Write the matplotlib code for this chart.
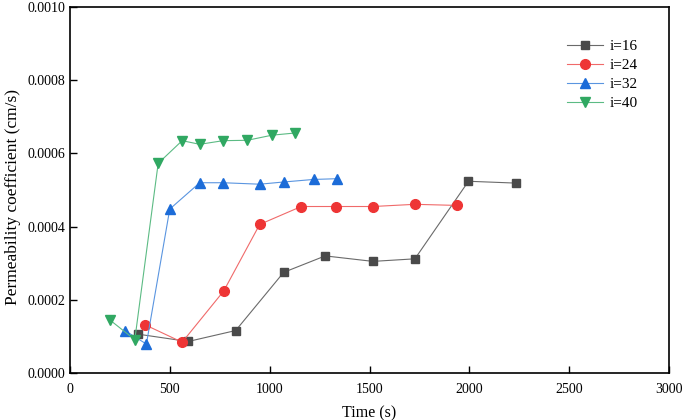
import matplotlib
matplotlib.use("Agg")
import matplotlib.pyplot as plt
from matplotlib.ticker import FormatStrFormatter

# data (time in s, permeability in cm/s)
t16 = [342, 592, 830, 1070, 1278, 1517, 1727, 1995, 2233]
k16 = [1.06e-4, 0.86e-4, 1.16e-4, 2.75e-4, 3.20e-4, 3.05e-4, 3.12e-4, 5.24e-4, 5.19e-4]

t24 = [375, 562, 770, 950, 1158, 1333, 1517, 1727, 1937]
k24 = [1.32e-4, 0.84e-4, 2.24e-4, 4.06e-4, 4.55e-4, 4.55e-4, 4.55e-4, 4.61e-4, 4.58e-4]

t32 = [278, 383, 500, 650, 767, 950, 1070, 1220, 1337]
k32 = [1.15e-4, 0.79e-4, 4.48e-4, 5.20e-4, 5.20e-4, 5.16e-4, 5.22e-4, 5.29e-4, 5.31e-4]

t40 = [200, 325, 442, 562, 650, 767, 888, 1012, 1128]
k40 = [1.45e-4, 0.91e-4, 5.73e-4, 6.35e-4, 6.25e-4, 6.35e-4, 6.36e-4, 6.50e-4, 6.56e-4]

plt.rcParams["font.family"] = ["Liberation Serif", "DejaVu Serif"]

fig = plt.figure(figsize=(6.85, 4.2), dpi=100)
ax = fig.add_axes([0.102, 0.112, 0.875, 0.871])

# lines a bit lighter than the markers, like the original
ax.plot(t16, k16, color="#6a6a6a", mfc="#4a4a4a", mec="#4a4a4a", marker="s", ms=6, lw=0.8, label="i=16")
ax.plot(t24, k24, color="#f06a6a", mfc="#ee3535", mec="#ee3535", marker="o", ms=7, lw=0.8, label="i=24")
ax.plot(t32, k32, color="#5a95e0", mfc="#1c6cd8", mec="#1c6cd8", marker="^", ms=7, lw=0.8, label="i=32")
ax.plot(t40, k40, color="#5cbb84", mfc="#30a862", mec="#30a862", marker="v", ms=7, lw=0.8, label="i=40")

ax.set_xlim(0, 3000)
ax.set_ylim(0, 0.001)
ax.set_xticks([0, 500, 1000, 1500, 2000, 2500, 3000])
ax.set_yticks([0, 0.0002, 0.0004, 0.0006, 0.0008, 0.001])
ax.yaxis.set_major_formatter(FormatStrFormatter("%.4f"))
ax.tick_params(direction="in", length=5, width=1, labelsize=10)
ax.tick_params(axis="x", pad=7)
for s in ax.spines.values():
    s.set_linewidth(1.2)

ax.set_xlabel("Time (s)", fontsize=11.5, labelpad=7)
ax.set_ylabel("Permeability coefficient (cm/s)", fontsize=12.5)
ax.yaxis.set_label_coords(-0.082, 0.481)

ax.legend(loc="upper right", bbox_to_anchor=(0.97, 0.95), frameon=False, fontsize=11,
          handlelength=2.4, handletextpad=0.4, labelspacing=0.35)

fig.savefig("out.png", dpi=100)
